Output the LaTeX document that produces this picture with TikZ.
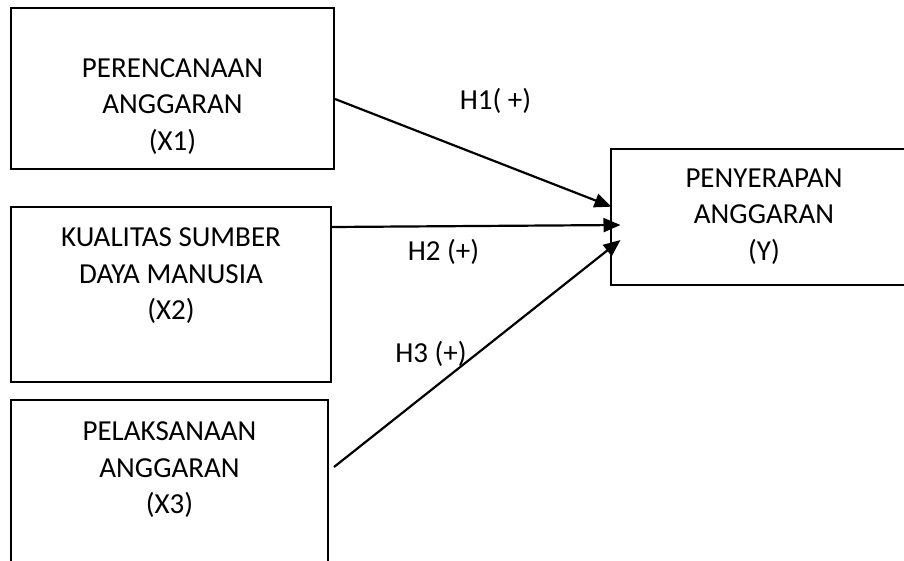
\documentclass[tikz,border=0pt]{standalone}
\usepackage{fontspec}
\setmainfont{Carlito}
\usetikzlibrary{arrows.meta, positioning, calc}

\begin{document}
\begin{tikzpicture}[x=1pt, y=-1pt,
    varbox/.style={draw, line width=2pt, inner sep=0pt},
    vartext/.style={align=center, inner sep=0pt, font=\fontsize{29}{36.5}\selectfont},
    hyptext/.style={inner sep=0pt, font=\fontsize{29}{36.5}\selectfont},
    hyp/.style={-{Triangle[length=17pt, width=14pt]}, line width=2.2pt}]
    \useasboundingbox (0,0) rectangle (904,560);

    \node[varbox, minimum width=323pt, minimum height=161pt] (x1box) at (172.5, 88.5) {};
    \node[varbox, minimum width=320pt, minimum height=175pt] (x2box) at (171, 294.5) {};
    \node[varbox, minimum width=317pt, minimum height=175pt] (x3box) at (169.5, 487.5) {};
    \node[inner sep=0pt, minimum width=340pt, minimum height=136pt] (ybox) at (781, 217) {};
    \draw[line width=2pt] (ybox.north east) -- (ybox.north west) -- (ybox.south west) -- (ybox.south east);

    \node[vartext] (x1) at (172.5, 106.5) {PERENCANAAN\\ANGGARAN\\(X1)};
    \node[vartext] (x2) at (171, 276) {KUALITAS SUMBER\\DAYA MANUSIA\\(X2)};
    \node[vartext] (x3) at (169.5, 470) {PELAKSANAAN\\ANGGARAN\\(X3)};
    \node[vartext] (y) at (764, 216.5) {PENYERAPAN\\ANGGARAN\\(Y)};

    \draw[hyp] ($(x1box.east)+(0,10.5)$) -- ($(ybox.west)+(0.7,-10.3)$);
    \draw[hyp] ($(x2box.east)+(0,-67.5)$) -- ($(ybox.west)+(9.7,8)$);
    \draw[hyp] ($(x3box.east)+(5,-20.5)$) -- ($(ybox.west)+(9.7,23)$);

    \node[hyptext] (h1) at (495.5, 101) {H1( +)};
    \node[hyptext] (h2) at (443.5, 251.5) {H2 (+)};
    \node[hyptext] (h3) at (431, 353.5) {H3 (+)};
\end{tikzpicture}
\end{document}
